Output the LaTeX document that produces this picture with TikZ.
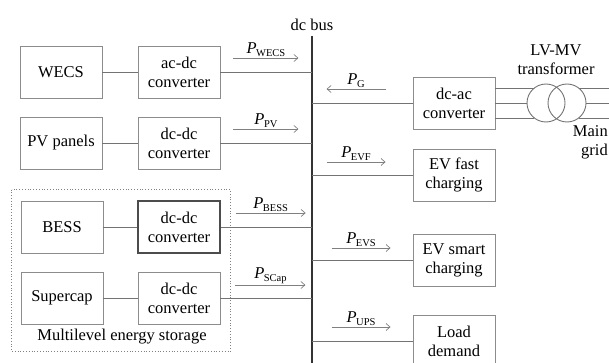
\documentclass[tikz,border=0pt]{standalone}
\usepackage{fontspec}
\setmainfont{Liberation Serif}
\usetikzlibrary{arrows.meta, positioning, calc}
\newcommand{\pflow}[1]{\textit{P}\kern-0.5pt\raisebox{-0.4ex}{\fontsize{10.5}{11}\selectfont #1}}

\begin{document}
\begin{tikzpicture}[x=1pt, y=-1pt, font=\fontsize{16.5}{19}\selectfont,
    box/.style={draw=black!45, line width=0.9pt, minimum width=82pt, minimum height=52pt,
        align=center, inner sep=0pt, text=black},
    link/.style={draw=black!55, line width=0.9pt},
    bus/.style={draw=black!80, line width=2pt},
    flow/.style={draw=black!50, line width=0.7pt, -{Straight Barb[length=4pt, width=7pt]}},
    coil/.style={circle, draw=black!55, line width=0.9pt, minimum size=38pt, inner sep=0pt},
    lbl/.style={inner sep=0pt, text=black}]
    \useasboundingbox (0,0) rectangle (609,363);
    % sources
    \node[box] (wecs) at (61,72) {WECS};
    \node[box] (acdc) at (179,72) {ac-dc\\converter};
    \node[box] (pv) at (61,143) {PV panels};
    \node[box] (dcdcpv) at (179,143) {dc-dc\\converter};
    % storage
    \node[box] (bess) at (62,227) {BESS};
    \node[box, draw=black!70, line width=1.3pt] (dcdcb) at (179,227) {dc-dc\\converter};
    \node[box] (scap) at (62,298) {Supercap};
    \node[box] (dcdcs) at (179,298) {dc-dc\\converter};
    \draw[black!50, line width=0.8pt, dotted]
        ($(bess.north west)+(-9,-11)$) rectangle ($(dcdcs.south east)+(10,27)$);
    \node[lbl] (mles) at (122,337) {Multilevel energy storage};
    % dc bus
    \coordinate (bustop) at (312,36);
    \coordinate (busbot) at (312,370);
    \draw[bus] (bustop) -- (busbot);
    \node[lbl, above=5pt of bustop] (buslbl) {dc bus};
    % loads and grid side
    \node[box] (dcac) at (454,103) {dc-ac\\converter};
    \node[box] (evf) at (454,175) {EV fast\\charging};
    \node[box] (evs) at (454,260) {EV smart\\charging};
    \node[box] (load) at (454,341) {Load\\demand};
    \node[coil] (t1) at (546,103) {};
    \node[coil] (t2) at (567,103) {};
    \node[lbl, align=center] (lvmv) at (556,60) {LV-MV\\transformer};
    \node[lbl, align=right, anchor=north east] (grid) at (608,125) {Main\\grid};
    \foreach \dy in {-15,0,15} {
        \draw[link] ($(dcac.east)+(0,\dy)$) -- ($(t1.center)+({-sqrt(361-(\dy)^2)},\dy)$);
        \draw[link] ($(t2.center)+({sqrt(361-(\dy)^2)},\dy)$) -- ++(40,0);
    }
    % connections
    \draw[link] (wecs) -- (acdc);
    \draw[link] (pv) -- (dcdcpv);
    \draw[link] (bess) -- (dcdcb);
    \draw[link] (scap) -- (dcdcs);
    \foreach \n in {acdc, dcdcpv, dcdcb, dcdcs, dcac, evf, evs, load}
        \draw[link] (\n) -- (\n -| bustop);
    % power flows
    \draw[flow] ($(acdc.east)+(13,-14)$) -- ++(65,0) node[midway, above=1pt, lbl] {\pflow{WECS}};
    \draw[flow] ($(dcdcpv.east)+(13,-14)$) -- ++(65,0) node[midway, above=1pt, lbl] {\pflow{PV}};
    \draw[flow] ($(dcdcb.east)+(15,-14)$) -- ++(70,0) node[midway, above=1pt, lbl] {\pflow{BESS}};
    \draw[flow] ($(dcdcs.east)+(15,-13)$) -- ++(70,0) node[midway, above=1pt, lbl] {\pflow{SCap}};
    \draw[flow] ($(dcac.west)+(-27,-14)$) -- ++(-59,0) node[midway, above=1pt, lbl] {\pflow{G}};
    \draw[flow] ($(evf.west)+(-86,-13)$) -- ++(59,0) node[midway, above=1pt, lbl] {\pflow{EVF}};
    \draw[flow] ($(evs.west)+(-81,-12)$) -- ++(59,0) node[midway, above=1pt, lbl] {\pflow{EVS}};
    \draw[flow] ($(load.west)+(-81,-14)$) -- ++(59,0) node[midway, above=1pt, lbl] {\pflow{UPS}};
\end{tikzpicture}
\end{document}
